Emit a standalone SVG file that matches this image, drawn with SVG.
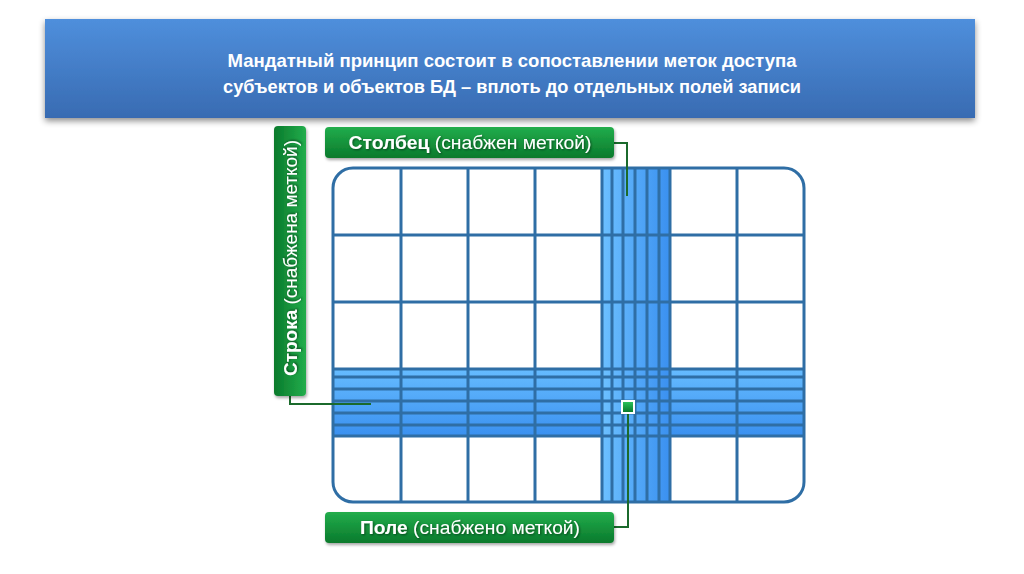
<svg xmlns="http://www.w3.org/2000/svg" width="1024" height="574" viewBox="0 0 1024 574">
<defs>
<linearGradient id="bannerG" x1="0" y1="0" x2="0" y2="1"><stop offset="0" stop-color="#4f8fdc"/><stop offset="1" stop-color="#386bb2"/></linearGradient>
<linearGradient id="greenG" x1="0" y1="0" x2="0" y2="1"><stop offset="0" stop-color="#22ad4c"/><stop offset="1" stop-color="#0a7a2c"/></linearGradient>
<linearGradient id="greenV" x1="1" y1="0" x2="0" y2="0"><stop offset="0" stop-color="#22ad4c"/><stop offset="1" stop-color="#0a7a2c"/></linearGradient>
<linearGradient id="colG" x1="0" y1="0" x2="1" y2="0"><stop offset="0" stop-color="#6cc0ff"/><stop offset="1" stop-color="#3a90f0"/></linearGradient>
<linearGradient id="rowG" x1="0" y1="0" x2="0" y2="1"><stop offset="0" stop-color="#66bcff"/><stop offset="1" stop-color="#3a90f0"/></linearGradient>
<linearGradient id="sqG" x1="0" y1="0" x2="0" y2="1"><stop offset="0" stop-color="#2cc05a"/><stop offset="1" stop-color="#0a7a2c"/></linearGradient>
<filter id="sh" x="-5%" y="-20%" width="110%" height="150%"><feDropShadow dx="0" dy="3" stdDeviation="3" flood-color="#000" flood-opacity="0.45"/></filter>
<filter id="sh2" x="-10%" y="-20%" width="120%" height="150%"><feDropShadow dx="1" dy="2" stdDeviation="1.5" flood-color="#000" flood-opacity="0.35"/></filter>
<filter id="ts" x="-5%" y="-20%" width="110%" height="150%"><feDropShadow dx="1" dy="1" stdDeviation="0.8" flood-color="#000" flood-opacity="0.5"/></filter>
<clipPath id="gridClip"><rect x="333" y="168" width="471" height="334" rx="20"/></clipPath>
</defs>
<style>
.bt{font-family:"Liberation Sans","Noto Sans",sans-serif;font-weight:bold;font-size:19px;fill:#fff;text-anchor:middle}
.lt{font-family:"Liberation Sans",Arial,sans-serif;font-size:18px;fill:#fff;text-anchor:middle}
.b{font-weight:bold}
.gl{stroke:#2f6ea5;stroke-width:3;fill:none}
.con{stroke:#1b6a2c;stroke-width:2;fill:none}
</style>
<g id="banner">
<rect x="45" y="19" width="930" height="99" fill="url(#bannerG)" filter="url(#sh)"/>
<text class="bt" x="512" y="67" textLength="569" lengthAdjust="spacingAndGlyphs">Мандатный принцип состоит в сопоставлении меток доступа</text>
<text class="bt" x="512" y="93" textLength="578" lengthAdjust="spacingAndGlyphs">субъектов и объектов БД – вплоть до отдельных полей записи</text>
</g>
<g id="grid">
<rect x="333" y="168" width="471" height="334" rx="20" fill="#fff"/>
<g clip-path="url(#gridClip)">
<rect x="333" y="369" width="471" height="67" fill="url(#rowG)"/>
<rect x="602" y="168" width="68" height="334" fill="url(#colG)"/>
<path class="gl" d="M401 168V502M468 168V502M535 168V502M602 168V502M612 168V502M623 168V502M635 168V502M647 168V502M659 168V502M670 168V502M737 168V502"/>
<path class="gl" d="M333 235H804M333 302H804M333 369H804M333 377H804M333 389H804M333 401H804M333 413H804M333 425H804M333 436H804"/>
</g>
<rect class="gl" x="333" y="168" width="471" height="334" rx="20"/>
</g>
<g id="connectors">
<path class="con" d="M614 143H627V196"/>
<path class="con" d="M290 396V404H371"/>
<path class="con" d="M614 527H628V413"/>
</g>
<g id="field-marker">
<rect x="621" y="400" width="14" height="14" fill="#fff"/>
<rect x="623" y="402" width="10" height="10" fill="url(#sqG)"/>
</g>
<g id="label-column">
<rect x="325" y="127" width="289" height="31" rx="4" fill="url(#greenG)" filter="url(#sh2)"/>
<text class="lt" x="470" y="149" textLength="243" lengthAdjust="spacingAndGlyphs" filter="url(#ts)"><tspan class="b">Столбец</tspan> (снабжен меткой)</text>
</g>
<g id="label-row">
<rect x="274" y="126" width="32" height="270" rx="4" fill="url(#greenV)" filter="url(#sh2)"/>
<text class="lt" transform="translate(297 258) rotate(-90)" x="0" y="0" textLength="236" lengthAdjust="spacingAndGlyphs" filter="url(#ts)"><tspan class="b">Строка</tspan> (снабжена меткой)</text>
</g>
<g id="label-field">
<rect x="325" y="512" width="289" height="31" rx="4" fill="url(#greenG)" filter="url(#sh2)"/>
<text class="lt" x="470" y="534" textLength="220" lengthAdjust="spacingAndGlyphs" filter="url(#ts)"><tspan class="b">Поле</tspan> (снабжено меткой)</text>
</g>
</svg>
